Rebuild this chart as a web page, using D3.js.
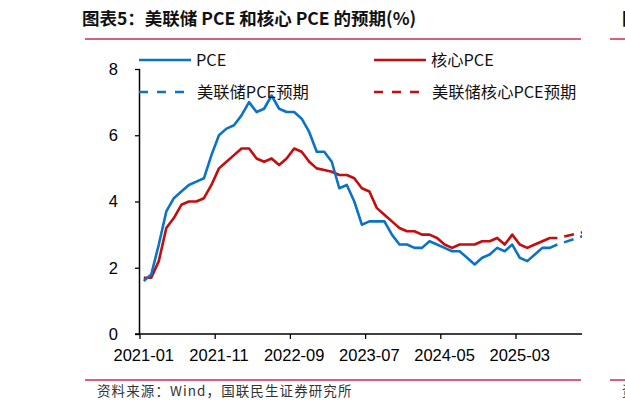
<!DOCTYPE html>
<html>
<head>
<meta charset="utf-8">
<script src="https://cdn.jsdelivr.net/npm/d3@7.9.0/dist/d3.min.js"></script>
<style>
  html, body { margin: 0; padding: 0; background: #fff; overflow: hidden; }
  svg { display: block; }
  .cjk { font-family: "Noto Sans CJK SC", "Liberation Sans", sans-serif; }
  .num { font-family: "Liberation Sans", Arial, sans-serif; }
</style>
</head>
<body>
<svg id="chart" width="625" height="408"></svg>
<script>
// monthly YoY, 2021-01 .. 2025-08
const startMonth = '2021-01';
const endMonth = '2025-12';
const pce = [
  1.6, 1.8, 2.7, 3.7, 4.1, 4.3, 4.5, 4.6, 4.7, 5.4, 6.0, 6.2,
  6.3, 6.6, 7.0, 6.7, 6.8, 7.2, 6.8, 6.7, 6.7, 6.5, 6.1, 5.5,
  5.5, 5.2, 4.4, 4.5, 4.0, 3.3, 3.4, 3.4, 3.4, 3.0, 2.7, 2.7,
  2.6, 2.6, 2.8, 2.7, 2.6, 2.5, 2.5, 2.3, 2.1, 2.3, 2.4, 2.6,
  2.5, 2.7, 2.3, 2.2, 2.4, 2.6, 2.6, 2.7
];
const corePce = [
  1.7, 1.7, 2.2, 3.2, 3.5, 3.9, 4.0, 4.0, 4.1, 4.5, 5.0, 5.2,
  5.4, 5.6, 5.6, 5.3, 5.2, 5.3, 5.1, 5.3, 5.6, 5.5, 5.2, 5.0,
  4.95, 4.9, 4.8, 4.8, 4.7, 4.4, 4.3, 3.8, 3.6, 3.4, 3.2, 3.1,
  3.1, 3.0, 3.0, 2.9, 2.7, 2.6, 2.7, 2.7, 2.7, 2.8, 2.8, 2.9,
  2.7, 3.0, 2.7, 2.6, 2.7, 2.8, 2.9, 2.9
];
// Fed projection (dashed): last actual month -> year end
const forecastMonths = ['2025-08', '2025-12'];
const pceForecast = [2.7, 3.0];
const corePceForecast = [2.9, 3.1];

const xTickLabels = ['2021-01', '2021-11', '2022-09', '2023-07', '2024-05', '2025-03'];
const yTicks = [0, 2, 4, 6, 8];
const seriesNames = ['PCE', '核心PCE', '美联储PCE预期', '美联储核心PCE预期'];

const blue = '#0B73C5';
const red = '#C40D0D';
const rule = '#CC2A4E';

const fmt = d3.timeFormat('%Y-%m');
const parse = d3.timeParse('%Y-%m');
const months = d3.timeMonth.range(parse(startMonth), d3.timeMonth.offset(parse(endMonth), 1)).map(fmt);

const svg = d3.select('#chart');

const plotLeft = 140, plotRight = 582, plotTop = 69, plotBottom = 334;
const x = d3.scaleBand().domain(months).range([plotLeft, plotLeft + months.length * 7.52]).padding(0);
const y = d3.scaleLinear().domain([0, 8]).range([plotBottom, plotTop]);
const cx = (m) => x(m) + x.bandwidth() / 2;

// title + rules
svg.append('text').attr('class', 'cjk')
  .attr('x', 82).attr('y', 25)
  .attr('font-size', 17.5).attr('font-weight', 700).attr('fill', '#111')
  .text('图表5：美联储 PCE 和核心 PCE 的预期(%)');
svg.append('line').attr('x1', 85).attr('x2', 581).attr('y1', 39).attr('y2', 39)
  .attr('stroke', rule).attr('stroke-width', 1.5);
svg.append('line').attr('x1', 85).attr('x2', 581).attr('y1', 380).attr('y2', 380)
  .attr('stroke', rule).attr('stroke-width', 1.5);
svg.append('text').attr('class', 'cjk')
  .attr('x', 97).attr('y', 396)
  .attr('font-size', 13.5).attr('letter-spacing', 1.1).attr('fill', '#333')
  .text('资料来源：Wind，国联民生证券研究所');

// edge of the neighbouring chart (cut by the frame, as in the source page)
svg.append('line').attr('x1', 610).attr('x2', 625).attr('y1', 39).attr('y2', 39)
  .attr('stroke', rule).attr('stroke-width', 1.5);
svg.append('line').attr('x1', 610).attr('x2', 625).attr('y1', 380).attr('y2', 380)
  .attr('stroke', rule).attr('stroke-width', 1.5);
svg.append('text').attr('class', 'cjk').attr('x', 622).attr('y', 25)
  .attr('font-size', 17.5).attr('font-weight', 700).attr('fill', '#111').text('图');
svg.append('text').attr('class', 'cjk').attr('x', 622).attr('y', 396)
  .attr('font-size', 13.5).attr('fill', '#333').text('资');

// y axis
const yAxis = svg.append('g').attr('transform', `translate(${plotLeft},0)`)
  .call(d3.axisLeft(y).tickValues(yTicks).tickSize(5).tickPadding(17).tickFormat(d3.format('d')));
yAxis.select('.domain').attr('d', `M-0.5,${plotTop}V${plotBottom}`).attr('stroke', '#000').attr('stroke-width', 1.5);
yAxis.selectAll('.tick line').attr('stroke', '#000').attr('stroke-width', 1.3);
yAxis.selectAll('.tick text').attr('class', 'num').attr('font-size', 16.5).attr('fill', '#000');

// x axis (ticks at category edges, labels at category centres)
const xg = svg.append('g');
xg.append('line').attr('x1', plotLeft - 5).attr('x2', plotRight).attr('y1', plotBottom).attr('y2', plotBottom)
  .attr('stroke', '#000').attr('stroke-width', 1.5);
xg.selectAll('.xt').data(xTickLabels).join('line')
  .attr('x1', (d) => x(d)).attr('x2', (d) => x(d))
  .attr('y1', plotBottom).attr('y2', plotBottom + 5)
  .attr('stroke', '#000').attr('stroke-width', 1.3);
xg.selectAll('.xl').data(xTickLabels).join('text')
  .attr('class', 'num')
  .attr('x', (d) => cx(d)).attr('y', plotBottom + 27)
  .attr('text-anchor', 'middle').attr('font-size', 16.5).attr('fill', '#000')
  .text((d) => d);

// lines
svg.append('clipPath').attr('id', 'plot')
  .append('rect').attr('x', plotLeft).attr('y', 0).attr('width', plotRight - plotLeft).attr('height', 408);

const line = d3.line().x((d) => cx(d.m)).y((d) => y(d.v)).curve(d3.curveLinear);
const toPts = (vals, ms) => vals.map((v, i) => ({ m: ms ? ms[i] : months[i], v }));

const plot = svg.append('g').attr('clip-path', 'url(#plot)');
plot.append('path').datum(toPts(corePce)).attr('d', line)
  .attr('fill', 'none').attr('stroke', red).attr('stroke-width', 2.6).attr('stroke-linejoin', 'round');
plot.append('path').datum(toPts(pce)).attr('d', line)
  .attr('fill', 'none').attr('stroke', blue).attr('stroke-width', 2.6).attr('stroke-linejoin', 'round');
plot.append('path').datum(toPts(corePceForecast, forecastMonths)).attr('d', line)
  .attr('fill', 'none').attr('stroke', red).attr('stroke-width', 2.6)
  .attr('stroke-dasharray', '10,7').attr('stroke-dashoffset', 10);
plot.append('path').datum(toPts(pceForecast, forecastMonths)).attr('d', line)
  .attr('fill', 'none').attr('stroke', blue).attr('stroke-width', 2.6)
  .attr('stroke-dasharray', '10,7').attr('stroke-dashoffset', 10);

// legend
const legendItems = [
  { name: seriesNames[0], color: blue, dash: null, x: 139, y: 60 },
  { name: seriesNames[1], color: red, dash: null, x: 374, y: 60 },
  { name: seriesNames[2], color: blue, dash: '9,9', x: 139, y: 92 },
  { name: seriesNames[3], color: red, dash: '9,9', x: 374, y: 92 }
];
const lg = svg.append('g').selectAll('g').data(legendItems).join('g')
  .attr('transform', (d) => `translate(${d.x},${d.y})`);
lg.append('line').attr('x1', 0).attr('x2', (d) => d.dash ? 45 : 52)
  .attr('stroke', (d) => d.color).attr('stroke-width', 2.6)
  .attr('stroke-dasharray', (d) => d.dash);
lg.append('text').attr('class', 'cjk')
  .attr('x', (d) => d.dash ? 58 : 57).attr('y', 0).attr('dy', '0.36em')
  .attr('font-size', 16.3).attr('fill', '#111')
  .text((d) => d.name);
</script>
</body>
</html>
